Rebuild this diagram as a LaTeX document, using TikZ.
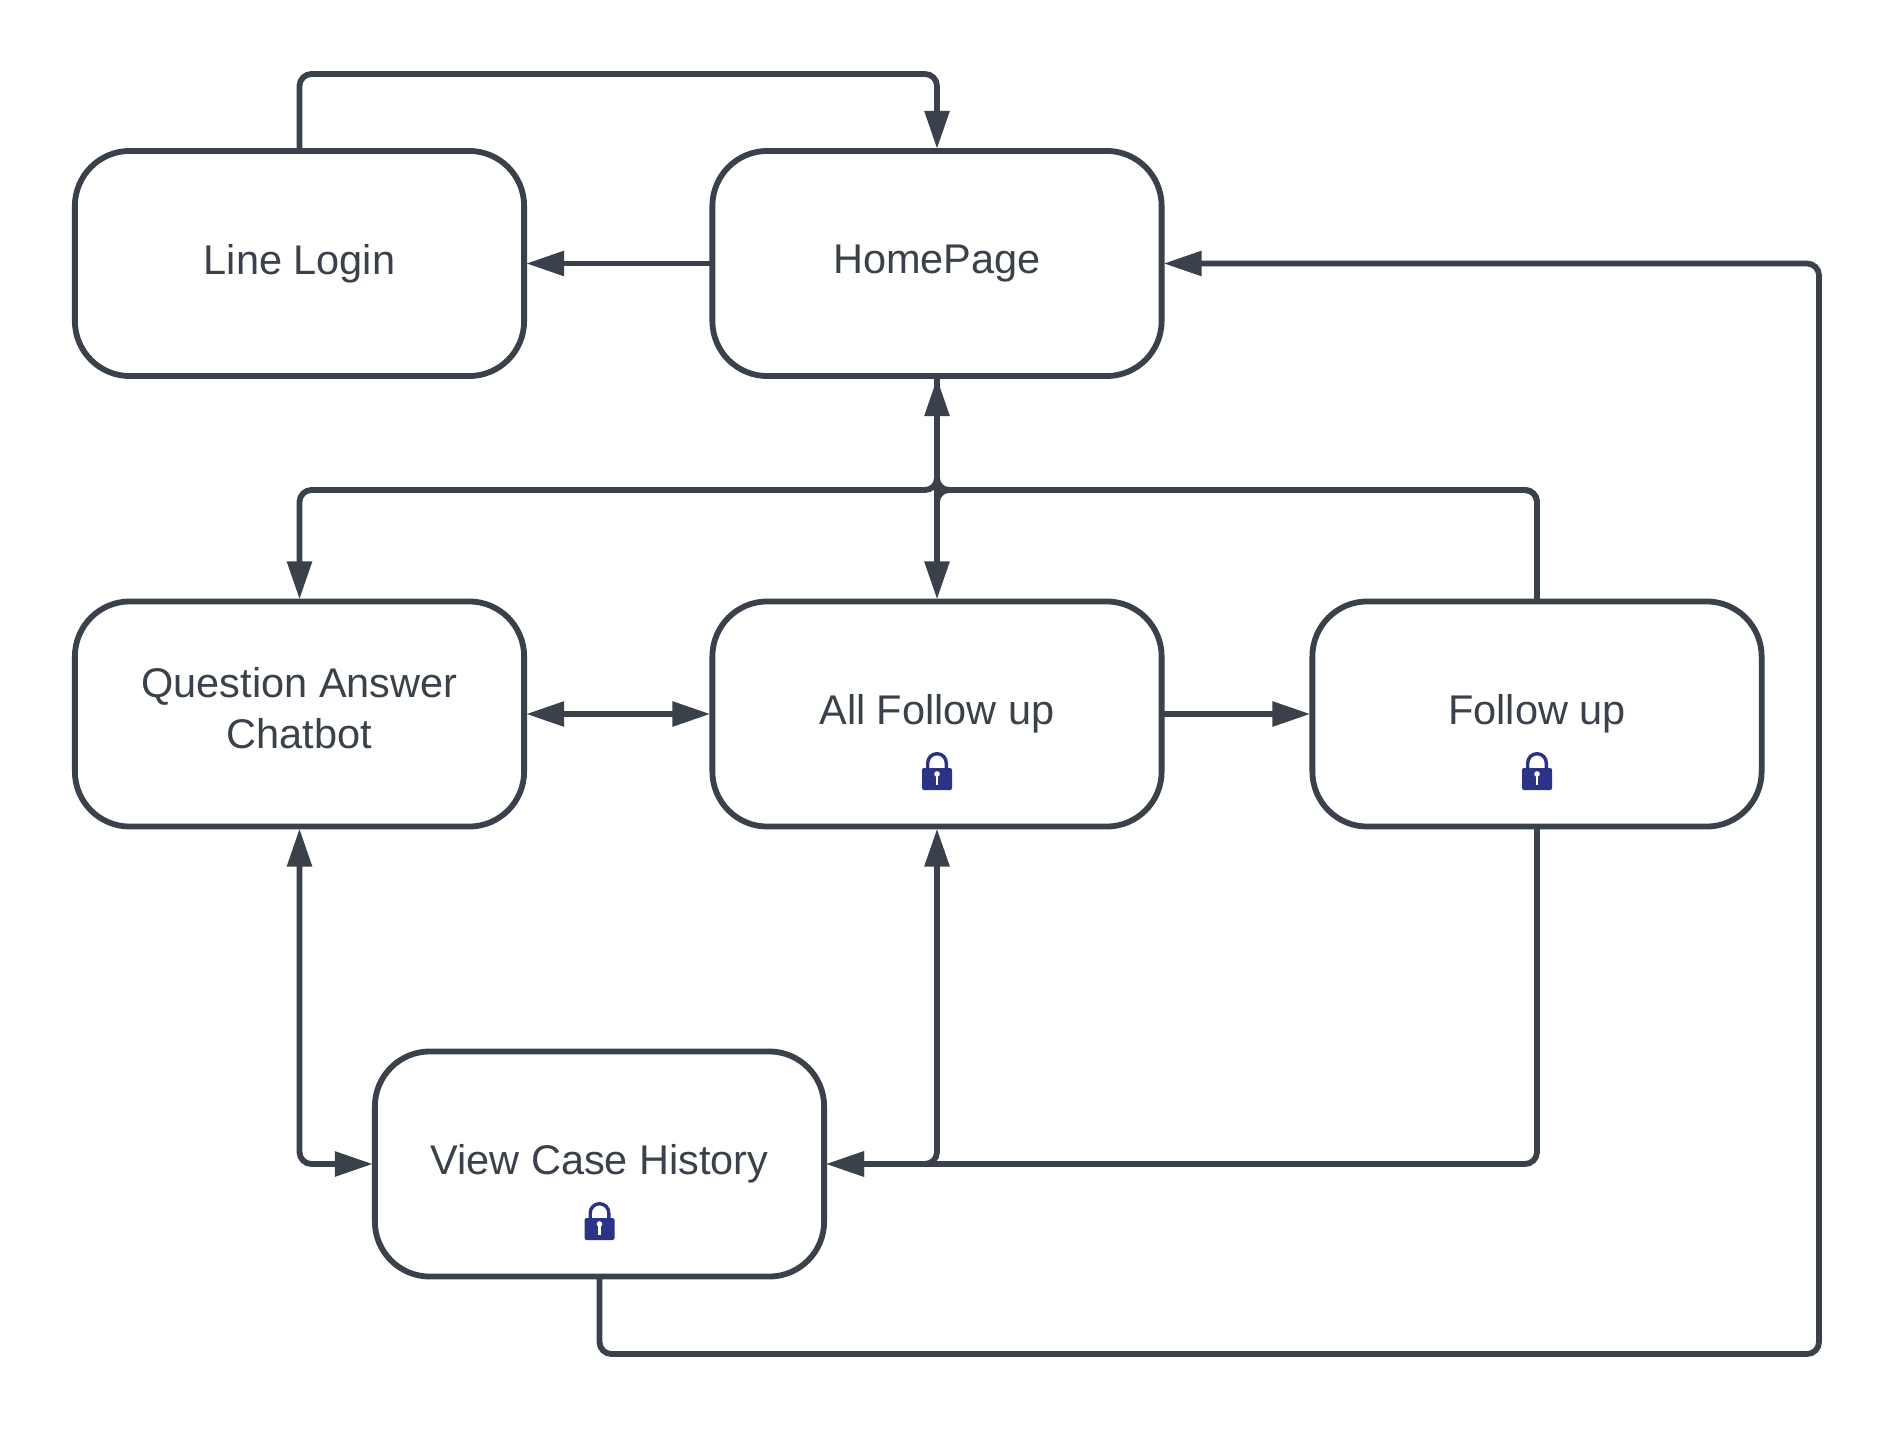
\documentclass[tikz,border=0pt]{standalone}
\usepackage{fontspec}
\setmainfont{Liberation Sans}
\usetikzlibrary{arrows.meta}
\definecolor{slateline}{HTML}{3A414A}
\definecolor{lockblue}{HTML}{2A3386}
\tikzset{
    pagebox/.style={draw=slateline, line width=0.058cm, fill=white, rounded corners=0.55cm,
        minimum width=4.49cm, minimum height=2.25cm, outer sep=0pt, inner sep=0pt,
        align=center, text=slateline, font=\fontsize{11.8}{14.2}\selectfont},
    flow/.style={draw=slateline, line width=0.058cm, rounded corners=0.12cm, shorten >=0.02cm},
    flowboth/.style={flow, shorten <=0.02cm},
    lockicon/.pic={
        \draw[lockblue, line width=0.034cm] (-9.3,-1) -- (-9.3,-8) arc (180:360:9.3) -- (9.3,-1);
        \fill[lockblue, rounded corners=0.02cm] (-15,-3) rectangle (15,19);
        \fill[white] (0,3) circle (2.8);
        \fill[white] (-1.2,3) rectangle (1.2,14);
    }
}
\begin{document}
\begin{tikzpicture}[x=0.01cm, y=-0.01cm, >={Triangle[length=0.38cm, width=0.24cm]}]
    \useasboundingbox (0,0) rectangle (1894,1431);

    % boxes
    \node[pagebox] (login) at (299.5,263.5) {\raisebox{0.8pt}{Line Login}};
    \node[pagebox] (home) at (937,263.5) {\raisebox{0.8pt}{HomePage}};
    \node[pagebox] (chatbot) at (299.5,714) {\raisebox{3.4pt}{\shortstack{Question Answer\\[0.6pt]Chatbot}}};
    \node[pagebox] (allfollow) at (937,714) {\raisebox{2.7pt}{All Follow up}};
    \node[pagebox] (follow) at (1537,714) {\raisebox{2.7pt}{Follow up}};
    \node[pagebox] (history) at (599.5,1164) {\raisebox{2.7pt}{View Case History}};

    \foreach \name in {allfollow, follow, history}
        \path (\name.center) ++(0,57) pic {lockicon};

    % bend points
    \coordinate (topbend) at (937,74);
    \coordinate (busmid) at (937,490);
    \coordinate (lowbend) at (1819,1354);
    \coordinate (rightbend) at (1819,263.5);

    % connectors
    \draw[flow, ->] (login.north) |- (topbend) -- (home.north);
    \draw[flow, ->] (home.west) -- (login.east);
    \draw[flowboth, <->] (home.south) -- (allfollow.north);
    \draw[flow, ->] (home.south) |- (busmid) -| (chatbot.north);
    \draw[flow] (follow.north) |- (busmid) -- (home.south);
    \draw[flow, shorten >=0.3cm] (follow.north) |- (busmid) -- (allfollow.north);
    \draw[flowboth, <->] (chatbot.east) -- (allfollow.west);
    \draw[flow, ->] (allfollow.east) -- (follow.west);
    \draw[flowboth, <->] (chatbot.south) |- (history.west);
    \draw[flowboth, <->] (history.east) -| (allfollow.south);
    \draw[flow, ->] (follow.south) |- (history.east);
    \draw[flow, ->] (history.south) |- (lowbend) -- (rightbend) -- (home.east);
\end{tikzpicture}
\end{document}
